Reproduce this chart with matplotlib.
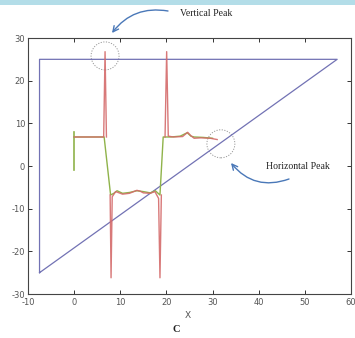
import matplotlib
matplotlib.use("Agg")
import matplotlib.pyplot as plt
from matplotlib.patches import Ellipse, Rectangle
import numpy as np

plt.rcParams["axes.unicode_minus"] = False

# ---- data ----
tri_x = [-7.5, -7.5, 57.0, -7.5]
tri_y = [-25.0, 25.0, 25.0, -25.0]

nan = np.nan
red_x = [0, 6.4, 6.7, 7.0, nan, 7.8, 8.0, 8.25, 9.0, 10.5, 12.0, 13.6, 14.3, 15.0, 16.5, 17.5, 18.3,
         18.6, 18.9, nan, 19.7, 20.05, 20.4, 21.5, 23.5, 24.6, 25.3, 26.0, 27.5, 29.5, 31.0]
red_y = [6.8, 6.8, 26.8, 6.8, nan, -6.8, -26.2, -7.2, -6.0, -6.6, -6.4, -5.7, -5.9, -6.3, -6.4, -6.0, -7.6,
         -26.2, -6.8, nan, 6.8, 26.8, 7.0, 6.8, 6.9, 7.9, 7.1, 6.5, 6.6, 6.5, 6.2]

green_vx = [0, 0]
green_vy = [8.0, -0.9]
green_x = [0, 6.5, 7.9, 8.6, 9.3, 10.5, 12.0, 13.6, 15.0, 16.5, 17.6, 18.6, 19.3, 21.0, 23.0,
           24.5, 25.3, 26.0, 28.0, 30.0]
green_y = [6.8, 6.8, -6.8, -6.4, -5.8, -6.4, -6.2, -5.8, -6.0, -6.3, -5.8, -6.8, 6.8, 6.8, 7.0,
           7.8, 7.0, 6.8, 6.7, 6.5]

circle_centers = [(6.7, 25.8), (31.8, 5.2)]
xticks = [-10, 0, 10, 20, 30, 40, 50, 60]
yticks = [-30, -20, -10, 0, 10, 20, 30]

# ---- figure ----
fig = plt.figure(figsize=(3.55, 3.38), dpi=100)
fig.patches.append(Rectangle((0, 1 - 5 / 338), 1, 5 / 338, transform=fig.transFigure,
                             facecolor="#b3dde8", edgecolor="none"))
ax = fig.add_axes([28 / 355, 1 - 294 / 338, (351 - 28) / 355, (294 - 38) / 338])

ax.plot(tri_x, tri_y, color="#7272b4", lw=0.9)
ax.plot(green_vx, green_vy, color="#8fb34a", lw=1.2)
ax.plot(green_x, green_y, color="#8fb34a", lw=1.0)
ax.plot(red_x, red_y, color="#d46a6a", lw=1.0, alpha=0.9)

# dotted circles (about 14 px radius)
for cx, cy in circle_centers:
    ax.add_patch(Ellipse((cx, cy), 28 / 323 * 70, 28 / 256 * 60, fill=False,
                         ls=(0, (1.2, 1.5)), lw=0.7, edgecolor="#999999"))

ax.set_xlim(-10, 60)
ax.set_ylim(-30, 30)
ax.set_xticks(xticks)
ax.set_yticks(yticks)
ax.tick_params(direction="in", length=3, width=0.7, labelsize=6, colors="#333333",
               labelcolor="#555555", top=True, right=True)
ax.tick_params(axis="y", pad=2)
ax.tick_params(axis="x", pad=3)
for s in ax.spines.values():
    s.set_color("#444444")
    s.set_linewidth(0.8)

# annotations
fig.text(180 / 355, 1 - 14 / 338, "Vertical Peak", family="Liberation Serif", fontsize=7,
         va="center", ha="left", color="#222222")
fig.text(266 / 355, 1 - 166 / 338, "Horizontal Peak", family="Liberation Serif", fontsize=7,
         va="center", ha="left", color="#222222")
ax.annotate("", xy=(112, 338 - 33), xycoords="figure pixels",
            xytext=(168, 338 - 11), textcoords="figure pixels",
            arrowprops=dict(arrowstyle="->", color="#4a78b8", lw=1.0,
                            connectionstyle="arc3,rad=0.3", shrinkA=0, shrinkB=0))
ax.annotate("", xy=(231, 338 - 163), xycoords="figure pixels",
            xytext=(289, 338 - 179), textcoords="figure pixels",
            arrowprops=dict(arrowstyle="->", color="#4a78b8", lw=1.0,
                            connectionstyle="arc3,rad=-0.35", shrinkA=0, shrinkB=0))

fig.text(188 / 355, 1 - 315 / 338, "X", fontsize=6.5, ha="center", va="center", color="#555555")
fig.text(176 / 355, 1 - 330 / 338, "C", family="Liberation Serif", fontsize=7.5,
         fontweight="bold", ha="center", va="center", color="#222222")

fig.savefig("out.png", dpi=100)
